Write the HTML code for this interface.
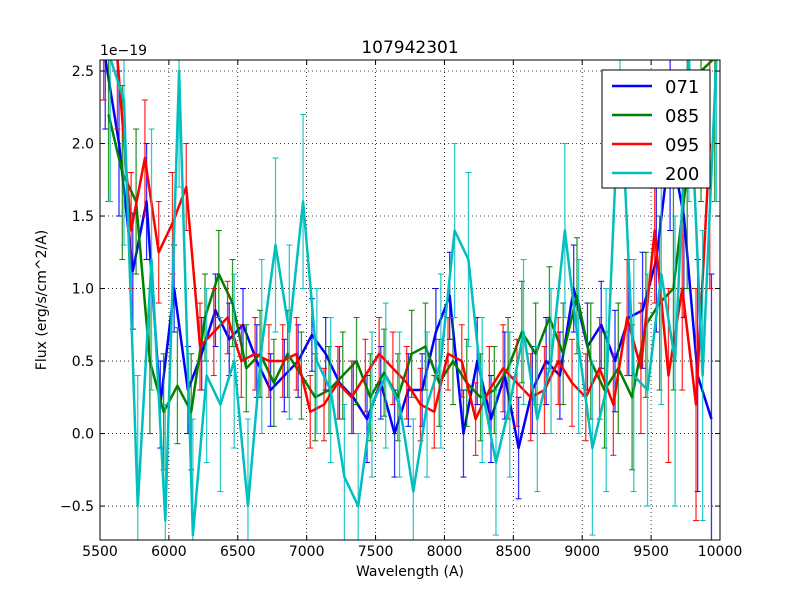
<!DOCTYPE html>
<html><head><meta charset="utf-8"><style>
html,body{margin:0;padding:0;background:#fff;overflow:hidden;width:800px;height:600px;}
svg{display:block;}
svg text{font-family:"DejaVu Sans","Liberation Sans",sans-serif;}
</style></head><body>
<svg id="chart" width="800" height="600" xmlns="http://www.w3.org/2000/svg">
<rect width="800" height="600" fill="#fff"/>
<defs><clipPath id="clip"><rect x="100" y="60" width="620" height="480"/></clipPath></defs>
<g id="grid"></g>
<g id="series" clip-path="url(#clip)"></g>
<rect x="100" y="60" width="620" height="480" fill="none" stroke="#000" stroke-width="1"/>
<g id="axes"></g>
<text x="410" y="53" font-size="17" text-anchor="middle">107942301</text>
<text x="100" y="55" font-size="14">1e−19</text>
<text x="410" y="576" font-size="14" text-anchor="middle">Wavelength (A)</text>
<text x="46" y="300" font-size="14" text-anchor="middle" transform="rotate(-90 46 300)">Flux (erg/s/cm^2/A)</text>
<g id="legend">
<rect x="602" y="70" width="108" height="118" fill="#fff" stroke="#000"/>
</g>
</svg>
<script>
const wave=[5550,5650,5750,5850,5950,6050,6150,6250,6350,6450,6550,6650,6750,6850,6950,7050,7150,7250,7350,7450,7550,7650,7750,7850,7950,8050,8150,8250,8350,8450,8550,8650,8750,8850,8950,9050,9150,9250,9350,9450,9550,9650,9750,9850,9950];
const s071=[2.6,2.0,1.12,1.6,0.2,1.0,0.3,0.55,0.85,0.65,0.75,0.5,0.3,0.4,0.5,0.68,0.55,0.35,0.25,0.1,0.35,0.0,0.3,0.3,0.7,0.95,0.0,0.5,0.1,0.4,-0.1,0.3,0.5,0.4,1.0,0.6,0.75,0.5,0.8,0.85,1.2,2.0,1.5,0.4,0.1];
const s085=[2.2,1.8,1.6,0.5,0.15,0.33,0.15,0.8,1.1,0.9,0.45,0.55,0.35,0.55,0.4,0.25,0.3,0.4,0.5,0.25,0.42,0.25,0.55,0.6,0.35,0.5,0.35,0.25,0.3,0.45,0.7,0.55,0.8,0.55,0.95,0.5,0.3,0.45,0.25,0.75,0.9,1.0,1.8,2.5,2.6];
const s095=[2.8,2.6,1.4,1.9,1.25,1.45,1.7,0.6,0.7,0.8,0.5,0.55,0.5,0.5,0.55,0.15,0.2,0.35,0.25,0.4,0.55,0.45,0.35,0.2,0.15,0.55,0.5,0.1,0.3,0.45,0.35,0.25,0.3,0.5,0.35,0.25,0.45,0.2,0.8,0.45,1.4,0.4,1.0,0.2,2.0];
const s200=[2.6,2.3,-0.5,1.2,-0.6,2.5,-0.7,0.4,0.2,0.5,-0.5,0.6,1.3,0.7,1.6,0.5,0.3,-0.3,-0.5,0.2,0.4,0.2,-0.4,0.2,0.5,1.4,1.2,0.3,-0.2,0.2,0.7,0.1,0.5,1.4,0.6,-0.1,0.3,2.5,0.4,0.3,1.1,0.5,2.6,0.4,2.6];
const e071=[0.5,0.5,0.4,0.4,0.3,0.3,0.3,0.25,0.25,0.25,0.25,0.25,0.25,0.25,0.25,0.25,0.25,0.25,0.25,0.3,0.25,0.3,0.25,0.25,0.3,0.3,0.3,0.3,0.3,0.3,0.35,0.3,0.3,0.3,0.3,0.3,0.3,0.35,0.4,0.4,0.5,0.6,0.7,0.8,1.0];
const e085=[0.6,0.6,0.5,0.5,0.4,0.4,0.4,0.3,0.3,0.3,0.3,0.3,0.3,0.3,0.3,0.3,0.3,0.3,0.3,0.3,0.3,0.3,0.3,0.3,0.3,0.3,0.3,0.3,0.3,0.35,0.35,0.35,0.35,0.35,0.4,0.4,0.4,0.45,0.5,0.5,0.6,0.7,0.8,0.9,1.0];
const e095=[0.5,0.5,0.4,0.4,0.35,0.35,0.3,0.3,0.3,0.25,0.25,0.25,0.25,0.25,0.25,0.25,0.25,0.25,0.25,0.25,0.25,0.25,0.25,0.25,0.25,0.25,0.25,0.25,0.3,0.3,0.3,0.3,0.3,0.3,0.3,0.3,0.35,0.35,0.4,0.45,0.5,0.6,0.7,0.8,1.0];
const e200=[1.0,1.0,0.9,0.9,0.8,0.8,0.8,0.6,0.6,0.6,0.6,0.6,0.6,0.6,0.6,0.5,0.5,0.5,0.5,0.5,0.5,0.5,0.5,0.5,0.6,0.6,0.6,0.5,0.5,0.5,0.5,0.5,0.5,0.6,0.6,0.6,0.7,0.8,0.8,0.8,0.9,1.0,1.0,1.0,1.0];
const seriesNames=["071","085","095","200"];
const xTicks=[5500,6000,6500,7000,7500,8000,8500,9000,9500,10000];
const yTicks=[-0.5,0.0,0.5,1.0,1.5,2.0,2.5];
const yTickLabels=["−0.5","0.0","0.5","1.0","1.5","2.0","2.5"];
const NS="http://www.w3.org/2000/svg";
const X0=5500,X1=10000,Y0=-0.734,Y1=2.576;
function xs(v){return 100+(v-X0)/(X1-X0)*620;}
function ys(v){return 540-(v-Y0)/(Y1-Y0)*480;}
function cy(y){return Math.max(58,Math.min(542,y));}
function mk(tag,attrs,parent){const e=document.createElementNS(NS,tag);for(const k in attrs)e.setAttribute(k,attrs[k]);parent.appendChild(e);return e;}
const grid=document.getElementById('grid'),axes=document.getElementById('axes'),ser=document.getElementById('series'),leg=document.getElementById('legend');
xTicks.forEach(t=>{const x=xs(t);
 const g=mk('line',{x1:x,x2:x,y1:60,y2:540,stroke:'#000','stroke-dasharray':'1,3','stroke-width':0.8},grid);
 
 
 mk('line',{x1:x,x2:x,y1:540,y2:535,stroke:'#000'},axes);
 mk('line',{x1:x,x2:x,y1:60,y2:65,stroke:'#000'},axes);
 const tx=mk('text',{x:x,y:556,'font-size':14,'text-anchor':'middle'},axes);tx.textContent=t;
 
 
});
yTicks.forEach((t,i)=>{const y=ys(t);
 const g=mk('line',{x1:100,x2:720,y1:y,y2:y,stroke:'#000','stroke-dasharray':'1,3','stroke-width':0.8},grid);
 
 
 mk('line',{x1:100,x2:105,y1:y,y2:y,stroke:'#000'},axes);
 mk('line',{x1:715,x2:720,y1:y,y2:y,stroke:'#000'},axes);
 const tx=mk('text',{x:94,y:y+5,'font-size':14,'text-anchor':'end'},axes);tx.textContent=yTickLabels[i];
 
 
});
const data=[[s071,e071,'#0000ff',-12],[s085,e085,'#008000',12],[s095,e095,'#ff0000',-24],[s200,e200,'#00bfbf',24]];
data.forEach((d,si)=>{const [vals,errs,col,off]=d;
 const g=mk('g',{},ser);
 
 
 vals.forEach((v,i)=>{const x=xs(wave[i]+off);const ra=ys(v+errs[i]),rb=ys(v-errs[i]);const a=cy(ra),b=cy(rb);
  mk('line',{x1:x,x2:x,y1:a,y2:b,stroke:col,'stroke-width':1.3,opacity:0.8},g);
  if(ra>=58) mk('line',{x1:x-3,x2:x+3,y1:a,y2:a,stroke:col,'stroke-width':1},g);
  if(rb<=542) mk('line',{x1:x-3,x2:x+3,y1:b,y2:b,stroke:col,'stroke-width':1},g);
 });
 const p=mk('polyline',{points:vals.map((v,i)=>xs(wave[i]+off)+','+cy(ys(v))).join(' '),fill:'none',stroke:col,'stroke-width':2.5,'stroke-linejoin':'round'},g);
 
 
 const ly=86+si*29;
 mk('line',{x1:612,x2:652,y1:ly,y2:ly,stroke:col,'stroke-width':2.5},leg);
 const lt=mk('text',{x:665,y:ly+7,'font-size':18},leg);lt.textContent=seriesNames[si];
 
 
});
</script>
</body></html>
